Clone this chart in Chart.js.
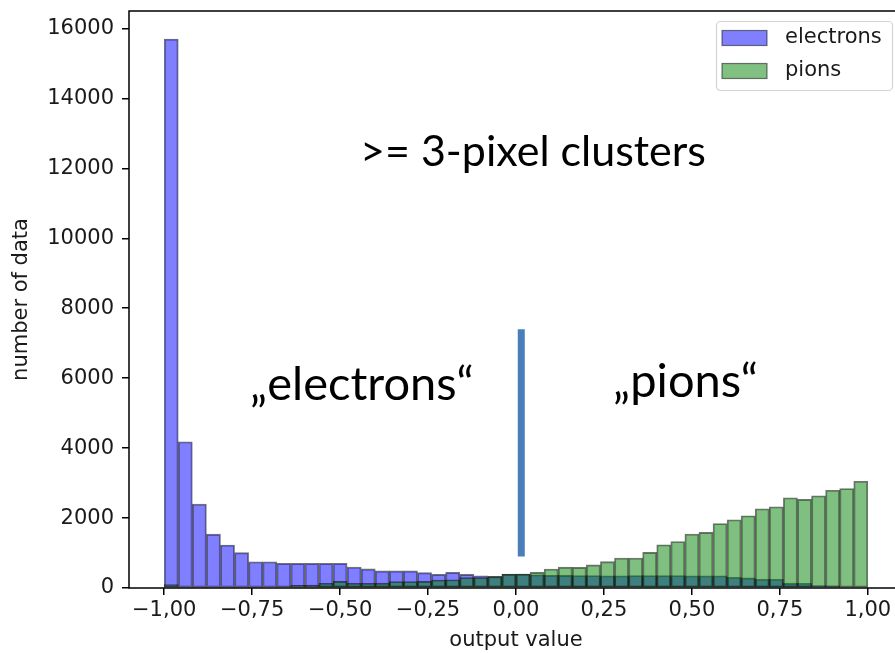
<!DOCTYPE html>
<html>
<head>
<meta charset="utf-8">
<script src="https://cdn.jsdelivr.net/npm/chart.js@4.4.1/dist/chart.umd.min.js"></script>
<style>
html, body { margin: 0; padding: 0; background: #fff; overflow: hidden; }
#wrap { position: relative; width: 940px; height: 653px; }
</style>
</head>
<body>
<div id="wrap"><canvas id="grafico"></canvas></div>
<script>
// centros dos bins (largura 0.04)
const centros = [-0.98, -0.94, -0.90, -0.86, -0.82, -0.78, -0.74, -0.70, -0.66, -0.62,
  -0.58, -0.54, -0.50, -0.46, -0.42, -0.38, -0.34, -0.30, -0.26, -0.22,
  -0.18, -0.14, -0.10, -0.06, -0.02, 0.02, 0.06, 0.10, 0.14, 0.18,
  0.22, 0.26, 0.30, 0.34, 0.38, 0.42, 0.46, 0.50, 0.54, 0.58,
  0.62, 0.66, 0.70, 0.74, 0.78, 0.82, 0.86, 0.90, 0.94, 0.98]

const eletrons = [15700, 4180, 2400, 1540, 1230, 1010, 750, 750, 705, 705,
  705, 705, 705, 600, 545, 490, 490, 490, 440, 390,
  445, 390, 350, 335, 390, 400, 380, 365, 360, 355,
  355, 350, 350, 355, 355, 355, 355, 350, 350, 350,
  305, 290, 250, 250, 140, 135, 70, 65, 30, 35]

const pions = [95, 20, 15, 15, 15, 20, 20, 25, 40, 75,
  80, 135, 190, 135, 135, 140, 185, 185, 190, 230,
  235, 300, 300, 325, 400, 400, 446, 543, 595, 589,
  660, 755, 856, 856, 1018, 1237, 1328, 1542, 1590, 1845,
  1951, 2066, 2265, 2323, 2580, 2533, 2637, 2795, 2846, 3050]

const ticksX = [-1, -0.75, -0.5, -0.25, 0, 0.25, 0.5, 0.75, 1]
const ticksY = [0, 2000, 4000, 6000, 8000, 10000, 12000, 14000, 16000]

// linha azul separando as regiões
const linhaX = [0.015, 0.015]
const linhaY = [900, 7400]

const anotacoes = [
  { texto: '>= 3-pixel clusters', x: 360, y: 166, tamanho: 43 },
  { texto: '\u201Eelectrons\u201C', x: 250, y: 400, tamanho: 47 },
  { texto: '\u201Epions\u201C', x: 613, y: 397, tamanho: 47 }
]

const fonteEixo = { family: 'DejaVu Sans', size: 21 }
const corTexto = '#1a1a1a'

function formatarX(v) {
    return v.toFixed(2).replace('.', ',').replace('-', '\u2212')
}

const desenhos = {
    id: 'desenhos',
    afterDraw(chart) {
        const ctx = chart.ctx
        const area = chart.chartArea
        ctx.save()
        ctx.strokeStyle = '#000'
        ctx.lineWidth = 1.5
        ctx.strokeRect(area.left, area.top, area.right - area.left, area.bottom - area.top)

        // legenda
        ctx.beginPath()
        ctx.roundRect(716.5, 21.5, 176, 69, 4)
        ctx.fillStyle = 'rgba(255,255,255,0.8)'
        ctx.fill()
        ctx.strokeStyle = '#d4d4d4'
        ctx.lineWidth = 1.2
        ctx.stroke()
        ctx.font = '21px "DejaVu Sans"'
        ctx.textBaseline = 'middle'
        const barras = chart.data.datasets.filter(d => d.type === 'bar')
        barras.sort((a, b) => b.order - a.order)
        barras.forEach((d, i) => {
            const y = 38 + i * 33
            ctx.fillStyle = d.corLegenda
            ctx.fillRect(722, y - 7.5, 45, 15)
            ctx.strokeStyle = 'rgba(0,0,0,0.5)'
            ctx.lineWidth = 1.2
            ctx.strokeRect(722, y - 7.5, 45, 15)
            ctx.fillStyle = corTexto
            ctx.fillText(d.label, 785, y)
        })

        // anotações
        ctx.textBaseline = 'alphabetic'
        ctx.fillStyle = '#000'
        anotacoes.forEach(a => {
            ctx.font = a.tamanho + 'px Lato'
            ctx.fillText(a.texto, a.x, a.y)
        })
        ctx.restore()
    }
}

new Chart(document.getElementById('grafico'), {
    data: {
        datasets: [
            {
                type: 'line',
                label: 'corte',
                data: linhaX.map((x, i) => ({ x: x, y: linhaY[i] })),
                borderColor: '#4a7ebb',
                borderWidth: 7,
                borderCapStyle: 'butt',
                pointRadius: 0,
                order: 0
            },
            {
                type: 'bar',
                label: 'pions',
                data: centros.map((x, i) => ({ x: x, y: pions[i] })),
                backgroundColor: 'rgba(0,128,0,0.5)',
                corLegenda: '#80c080',
                borderColor: 'rgba(0,0,0,0.55)',
                borderWidth: 1.2,
                borderSkipped: false,
                barPercentage: 1,
                categoryPercentage: 1,
                grouped: false,
                order: 1
            },
            {
                type: 'bar',
                label: 'electrons',
                data: centros.map((x, i) => ({ x: x, y: eletrons[i] })),
                backgroundColor: 'rgba(0,0,255,0.5)',
                corLegenda: '#8080ff',
                borderColor: 'rgba(0,0,0,0.55)',
                borderWidth: 1.2,
                borderSkipped: false,
                barPercentage: 1,
                categoryPercentage: 1,
                grouped: false,
                order: 2
            }
        ]
    },
    options: {
        responsive: true,
        maintainAspectRatio: false,
        animation: false,
        layout: { padding: { left: 0, top: 11, right: 37, bottom: 0 } },
        plugins: {
            legend: { display: false },
            tooltip: { enabled: false }
        },
        scales: {
            x: {
                type: 'linear',
                min: -1.1,
                max: 1.1,
                offset: false,
                afterBuildTicks: s => { s.ticks = ticksX.map(v => ({ value: v })) },
                afterFit: s => { s.height = 65; s.paddingLeft = 0; s.paddingRight = 0 },
                border: { display: false },
                grid: { offset: false, drawOnChartArea: false, drawTicks: true, tickLength: 7, color: '#000', lineWidth: 1.5 },
                ticks: { font: fonteEixo, color: corTexto, padding: 3, maxRotation: 0, autoSkip: false, callback: v => formatarX(v) },
                title: { display: true, text: 'output value', font: fonteEixo, color: corTexto, padding: { top: 0, bottom: 0 } }
            },
            y: {
                min: 0,
                max: 16500,
                afterBuildTicks: s => { s.ticks = ticksY.map(v => ({ value: v })) },
                afterFit: s => { s.width = 129; s.paddingTop = 0; s.paddingBottom = 0 },
                border: { display: false },
                grid: { drawOnChartArea: false, drawTicks: true, tickLength: 7, color: '#000', lineWidth: 1.5 },
                ticks: { font: fonteEixo, color: corTexto, padding: 8, autoSkip: false, callback: v => String(v) },
                title: { display: true, text: 'number of data', font: fonteEixo, color: corTexto, padding: { top: 9, bottom: 0 } }
            }
        }
    },
    plugins: [desenhos]
})
</script>
</body>
</html>
